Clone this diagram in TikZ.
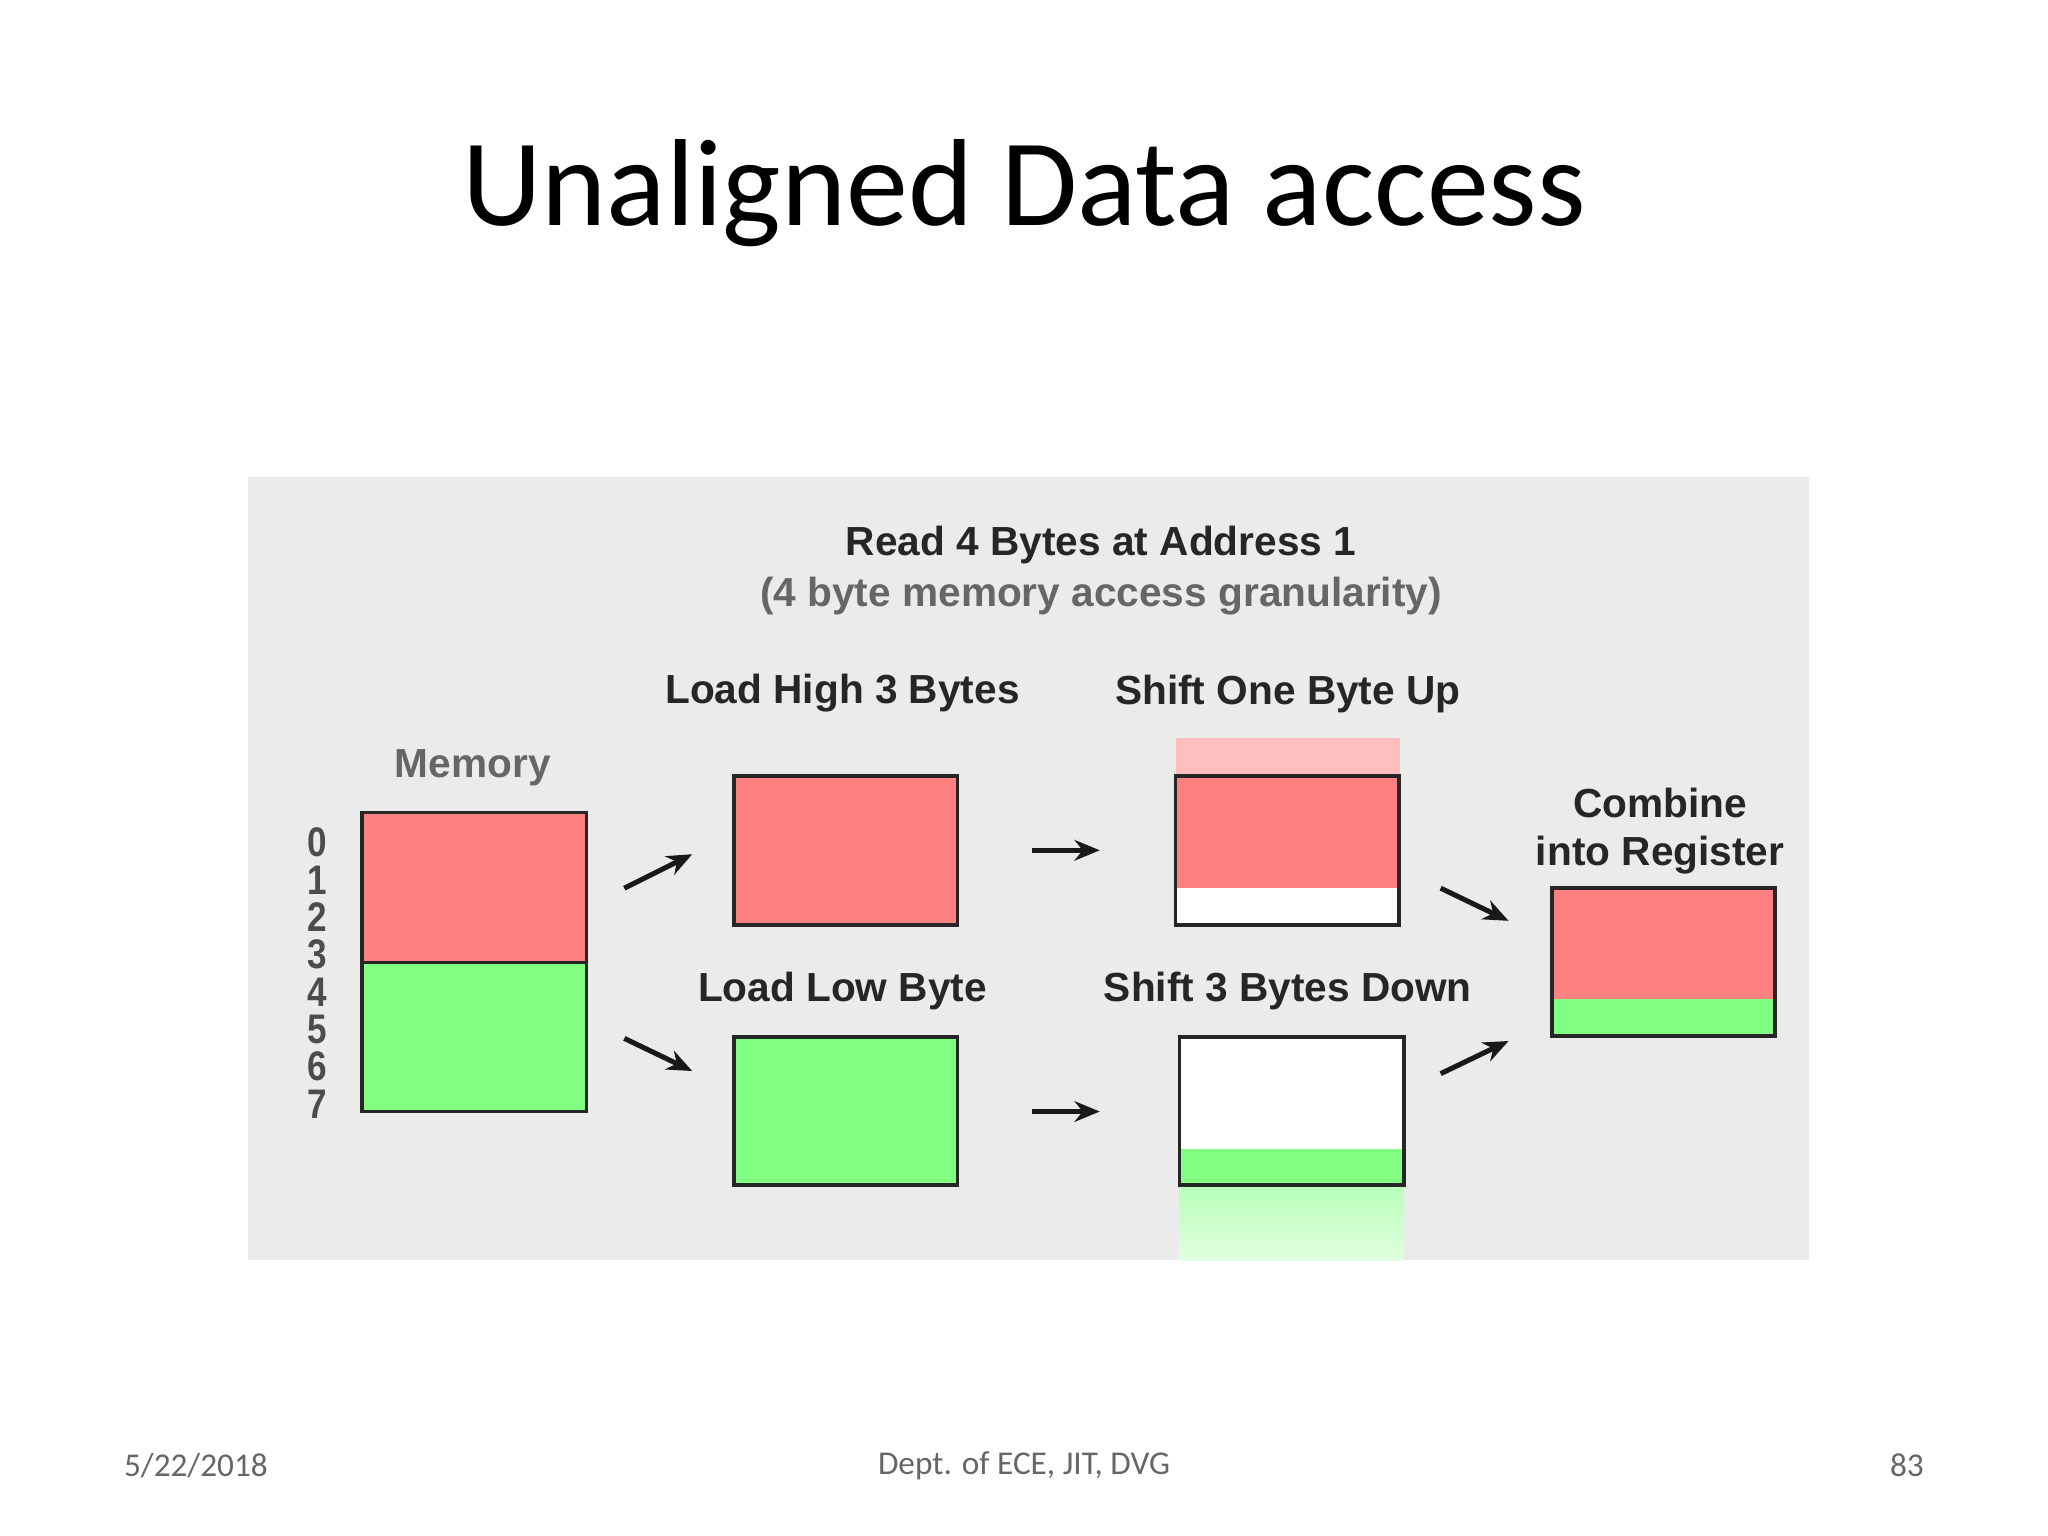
\documentclass[tikz,border=0pt]{standalone}
\usepackage{fontspec}
\setmainfont{Liberation Sans}
\newfontfamily\calfont{Carlito}
\usetikzlibrary{arrows.meta}
\begin{document}
\begin{tikzpicture}[x=0.02cm,y=-0.02cm,
 lbl/.style={font=\bfseries\fontsize{17.7}{21}\selectfont,text=black!85},
 glbl/.style={font=\bfseries\fontsize{17.7}{21}\selectfont,text=black!60},
 box/.style={draw=black!85,line width=1.6pt},
 arr/.style={-{Stealth[length=11pt,width=9pt]},line width=2.2pt,black!90},
 foot/.style={font=\calfont\fontsize{14.5}{17}\selectfont,text=black!60}]
\useasboundingbox (0,0) rectangle (1568,1176);
\fill[white] (0,0) rectangle (1568,1176);
\node[font=\calfont\fontsize{54}{58}\selectfont] (title) at (784,148) {Unaligned Data access};
\fill[black!8] (190,365) rectangle (1385,965);
\node[lbl] (h1) at (843,417) {Read 4 Bytes at Address 1};
\node[glbl] (h2) at (843,456) {(4 byte memory access granularity)};
% memory
\node[glbl] (ml) at (362,588) {Memory};
\fill[red!50] (277,622) rectangle (449,737);
\fill[green!50] (277,737) rectangle (449,851);
\draw[box] (277,622) rectangle (449,851);
\draw[box] (277,737) -- (449,737);
\foreach \d in {0,...,7}
  \node[font=\bfseries\fontsize{18}{18}\selectfont,text=black!70,xscale=0.85] (d\d) at (243,645+28.6*\d) {\d};
% load high
\node[lbl] (lh) at (645,531) {Load High 3 Bytes};
\fill[red!50] (562,594) rectangle (733,708);
\draw[box] (562,594) rectangle (733,708);
\node[lbl] (ll) at (645,759) {Load Low Byte};
\fill[green!50] (562,794) rectangle (733,907);
\draw[box] (562,794) rectangle (733,907);
% shift up
\node[lbl] (su) at (986,531) {Shift One Byte Up};
\fill[red!25] (900,565) rectangle (1072,594);
\fill[white] (900,594) rectangle (1071,708);
\fill[red!50] (900,594) rectangle (1071,680);
\draw[box] (900,594) rectangle (1071,708);
% shift down
\node[lbl] (sd) at (986,759) {Shift 3 Bytes Down};
\fill[white] (903,794) rectangle (1075,907);
\fill[green!50] (903,880) rectangle (1075,907);
\shade[top color=green!28,bottom color=green!12] (903,907) rectangle (1075,965);
\draw[box] (903,794) rectangle (1075,907);
% combine
\node[lbl,align=center] (cb) at (1271,636) {Combine\\into Register};
\fill[red!50] (1188,680) rectangle (1359,765);
\fill[green!50] (1188,765) rectangle (1359,793);
\draw[box] (1188,680) rectangle (1359,793);
% arrows
\coordinate (a1) at (478,680); \coordinate (b1) at (530,654);
\coordinate (a2) at (478,795); \coordinate (b2) at (530,820);
\coordinate (a3) at (790,651); \coordinate (b3) at (842,651);
\coordinate (a4) at (790,851); \coordinate (b4) at (842,851);
\coordinate (a5) at (1103,680); \coordinate (b5) at (1155,705);
\coordinate (a6) at (1103,822); \coordinate (b6) at (1155,797);
\foreach \i in {1,...,6} \draw[arr] (a\i) -- (b\i);
% footer
\node[foot] (f1) at (150,1122) {5/22/2018};
\node[foot] (f2) at (784,1122) {Dept. of ECE, JIT, DVG};
\node[foot] (f3) at (1460,1122) {83};
\end{tikzpicture}
\end{document}
